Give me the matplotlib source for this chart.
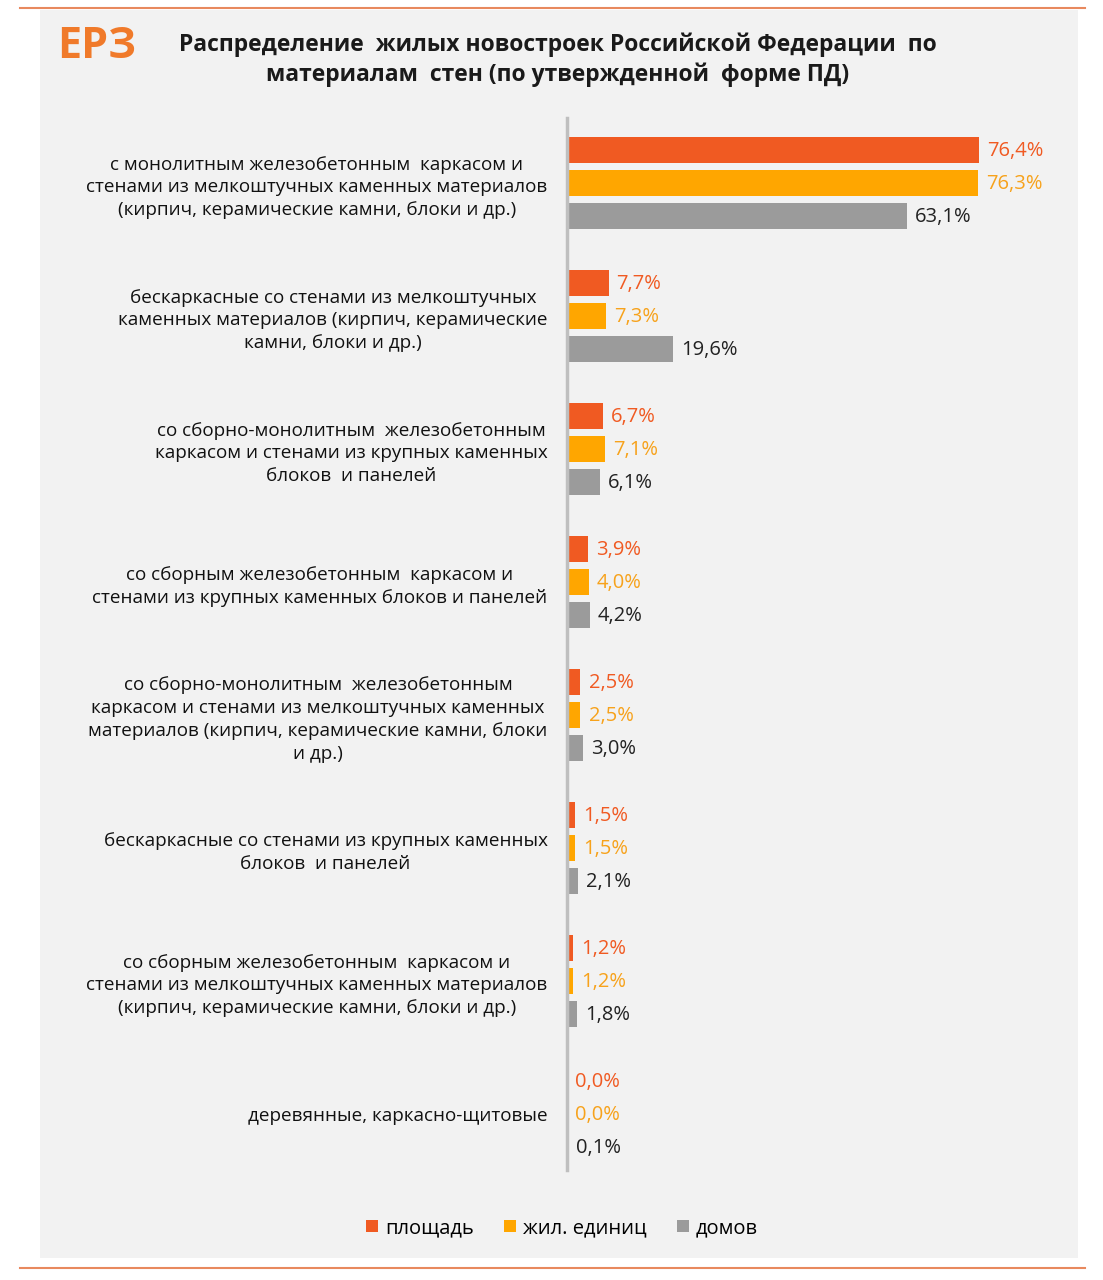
import numpy as np
import matplotlib.pyplot as plt
from matplotlib.patches import Rectangle
from matplotlib.lines import Line2D

categories = [
    "с монолитным железобетонным  каркасом и\nстенами из мелкоштучных каменных материалов\n(кирпич, керамические камни, блоки и др.)",
    "бескаркасные со стенами из мелкоштучных\nкаменных материалов (кирпич, керамические\nкамни, блоки и др.)",
    "со сборно-монолитным  железобетонным\nкаркасом и стенами из крупных каменных\nблоков  и панелей",
    "со сборным железобетонным  каркасом и\nстенами из крупных каменных блоков и панелей",
    "со сборно-монолитным  железобетонным\nкаркасом и стенами из мелкоштучных каменных\nматериалов (кирпич, керамические камни, блоки\nи др.)",
    "бескаркасные со стенами из крупных каменных\nблоков  и панелей",
    "со сборным железобетонным  каркасом и\nстенами из мелкоштучных каменных материалов\n(кирпич, керамические камни, блоки и др.)",
    "деревянные, каркасно-щитовые",
]
series_names = ["площадь", "жил. единиц", "домов"]
area = [76.4, 7.7, 6.7, 3.9, 2.5, 1.5, 1.2, 0.0]
units = [76.3, 7.3, 7.1, 4.0, 2.5, 1.5, 1.2, 0.0]
houses = [63.1, 19.6, 6.1, 4.2, 3.0, 2.1, 1.8, 0.1]

colors = ["#F05A22", "#FFA600", "#9B9B9B"]
label_colors = ["#F05A22", "#F7A21B", "#222222"]

plt.rcParams["font.family"] = ["Open Sans", "DejaVu Sans"]

W, H = 1103, 1280
fig = plt.figure(figsize=(W / 100, H / 100), dpi=100)
fig.patch.set_facecolor("white")

# grey panel and orange rules
fig.add_artist(Rectangle((40 / W, 1 - 1258 / H), 1038 / W, 1248 / H,
                         transform=fig.transFigure, facecolor="#F2F2F2", edgecolor="none", zorder=0))
for yy in (8, 1268):
    fig.add_artist(Line2D([20 / W, 1085 / W], [1 - yy / H, 1 - yy / H],
                          transform=fig.transFigure, color="#E8895E", lw=1.5))

# axes: x scale 5.39 px per %, y 133 px per group
x_max = 90
ax_left, ax_right = 567, 567 + x_max * 5.39
ax_top, ax_bot = 118, 1170
ax = fig.add_axes([ax_left / W, 1 - ax_bot / H, (ax_right - ax_left) / W, (ax_bot - ax_top) / H])
ax.set_facecolor("none")

y = np.arange(len(categories))
pitch = 0.248
height = 0.195
for k, (vals, c, lc) in enumerate(zip([area, units, houses], colors, label_colors)):
    pos = y + (k - 1) * pitch
    ax.barh(pos, vals, height=height, color=c, label=series_names[k])
    for p, v in zip(pos, vals):
        ax.text(v + 1.5, p + 0.01, f"{v:.1f}%".replace(".", ","), va="center", ha="left",
                fontsize=14.5, color=lc)

ax.set_xlim(0, x_max)
ax.set_ylim((ax_bot - 183) / 133, (ax_top - 183) / 133)
ax.set_yticks(y)
ax.set_yticklabels(categories, fontsize=13.6, multialignment="center", linespacing=1.35,
                   color="#111111")
ax.tick_params(axis="y", length=0, pad=14)
ax.set_xticks([])
for s in ["top", "right", "bottom"]:
    ax.spines[s].set_visible(False)
ax.spines["left"].set_color("#BFBFBF")
ax.spines["left"].set_linewidth(2.5)

# title and logo
fig.text(558 / W, 1 - 60 / H,
         "Распределение  жилых новостроек Российской Федерации  по\nматериалам  стен (по утвержденной  форме ПД)",
         ha="center", va="center", fontsize=16.5, fontweight="bold", linespacing=1.3, color="#1a1a1a")
fig.text(57 / W, 1 - 46 / H, "ЕРЗ", ha="left", va="center", fontsize=31, fontweight="bold",
         color="#F07A2A")

# legend
handles, labels = ax.get_legend_handles_labels()
fig.legend(handles, labels, loc="center", bbox_to_anchor=(562 / W, 1 - 1228 / H), ncol=3,
           frameon=False, fontsize=14.5, handlelength=0.6, handleheight=0.6,
           handletextpad=0.35, columnspacing=1.5)

fig.savefig("out.png", dpi=100)
